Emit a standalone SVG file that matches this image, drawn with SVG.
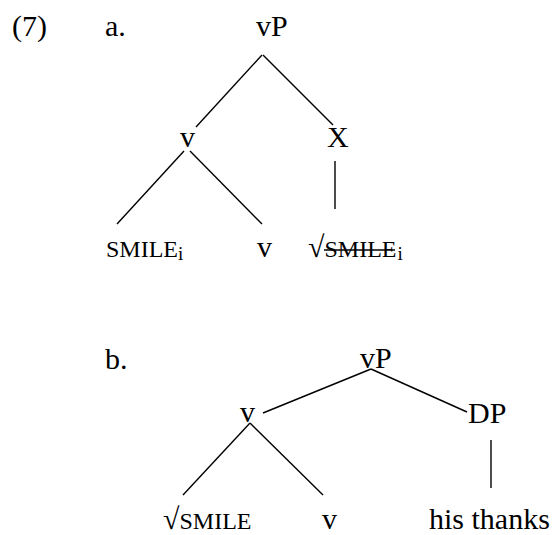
<svg xmlns="http://www.w3.org/2000/svg" width="558" height="535" viewBox="0 0 558 535">
<style>
text{font-family:'Liberation Serif','Times New Roman',serif;fill:#000;font-size:30px}
.sc{font-size:24px}
.sub{font-size:19px}
.edge{stroke:#000;stroke-width:1.4;fill:none}
</style>
<rect width="558" height="535" fill="#fff"/>
<g id="labels">
<text x="12" y="36">(7)</text>
<text x="105" y="36">a.</text>
<text x="105" y="369">b.</text>
</g>
<g id="connectors">
<line class="edge" x1="262" y1="55" x2="196" y2="127"/>
<line class="edge" x1="263" y1="55" x2="333" y2="125"/>
<line class="edge" x1="335" y1="161" x2="335" y2="209"/>
<line class="edge" x1="184" y1="151" x2="117" y2="224"/>
<line class="edge" x1="190" y1="151" x2="262" y2="224"/>
<line class="edge" x1="371" y1="369" x2="263" y2="413"/>
<line class="edge" x1="371" y1="369" x2="467" y2="412"/>
<line class="edge" x1="250" y1="423" x2="183" y2="495"/>
<line class="edge" x1="250" y1="423" x2="323" y2="495"/>
<line class="edge" x1="491" y1="440" x2="491" y2="488"/>
</g>
<g id="a-vP"><text x="256" y="36">vP</text></g>
<g id="a-v"><text x="180" y="147">v</text></g>
<g id="a-X"><text x="327" y="147">X</text></g>
<g id="a-SMILE"><text x="106" y="257"><tspan class="sc">SMILE</tspan><tspan class="sub" dy="3">i</tspan></text></g>
<g id="a-v2"><text x="257" y="257">v</text></g>
<g id="a-root"><text x="308" y="257">√<tspan class="sc">SMILE</tspan><tspan class="sub" dy="3" dx="1">i</tspan></text>
<line class="edge" x1="324" y1="250" x2="395" y2="250"/></g>
<g id="b-vP"><text x="360" y="368">vP</text></g>
<g id="b-v"><text x="240" y="422">v</text></g>
<g id="b-DP"><text x="468" y="423">DP</text></g>
<g id="b-root"><text x="163" y="529">√<tspan class="sc">SMILE</tspan></text></g>
<g id="b-v2"><text x="322" y="529">v</text></g>
<g id="b-his"><text x="429" y="529">his thanks</text></g>
</svg>
